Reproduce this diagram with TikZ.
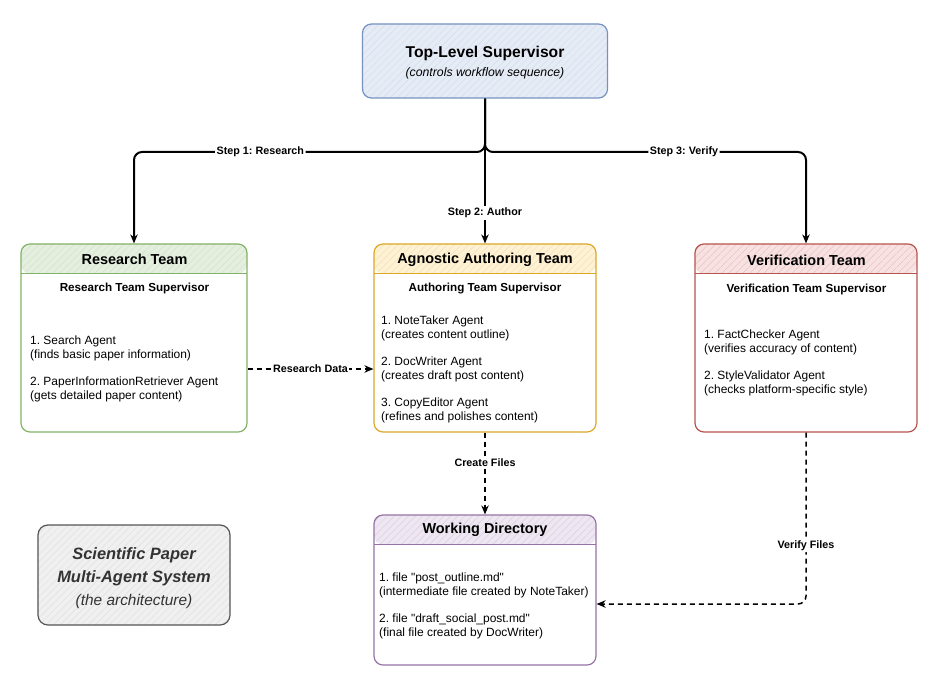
\documentclass[tikz,border=0pt]{standalone}
\usepackage{fontspec}
\setmainfont{Liberation Sans}
\usepackage{xcolor}
\definecolor{supfill}{RGB}{230,236,246}
\definecolor{supline}{RGB}{118,146,192}
\definecolor{resfill}{RGB}{228,239,224}
\definecolor{resline}{RGB}{130,179,102}
\definecolor{autfill}{RGB}{255,242,212}
\definecolor{autline}{RGB}{219,168,40}
\definecolor{verfill}{RGB}{248,226,225}
\definecolor{verline}{RGB}{184,84,80}
\definecolor{dirfill}{RGB}{238,231,241}
\definecolor{dirline}{RGB}{150,115,166}
\definecolor{sysfill}{RGB}{240,240,240}
\definecolor{sysline}{RGB}{85,85,85}
\definecolor{systext}{RGB}{51,51,51}
\usepackage{tikz}
\usetikzlibrary{arrows.meta, calc, patterns.meta}
\tikzset{
    hatch/.style={pattern={Lines[angle=45, distance=5pt, line width=0.5pt]}, pattern color=#1},
    teambox/.style 2 args={
        draw=#1, fill=white, line width=1.2pt, rounded corners=9pt, inner sep=0pt,
        path picture={
            \fill[#2] (path picture bounding box.north west) rectangle ([yshift=-29.5bp]path picture bounding box.north east);
            \fill[hatch=#1!35] (path picture bounding box.north west) rectangle ([yshift=-29.5bp]path picture bounding box.north east);
            \draw[#1, line width=1.2pt] ([yshift=-29.5bp]path picture bounding box.north west) -- ([yshift=-29.5bp]path picture bounding box.north east);
        }
    },
}
\tikzstyle{teamtitle} = [font=\fontsize{14.5}{16}\selectfont\bfseries]
\tikzstyle{subhead} = [font=\fontsize{11.7}{14}\selectfont\bfseries]
\tikzstyle{agents} = [font=\fontsize{12}{14.05}\selectfont, align=left, anchor=north west, inner sep=0pt]
\tikzstyle{arrow} = [-{Stealth[length=9bp, width=7.5bp]}, line width=2bp]
\tikzstyle{dasharrow} = [-{Stealth[length=9bp, width=7.5bp]}, line width=1.5bp, dash pattern=on 5bp off 4bp]
\tikzstyle{steplabel} = [fill=white, inner sep=1.5pt, font=\fontsize{10.8}{12}\selectfont\bfseries]

\begin{document}
\frenchspacing
\begin{tikzpicture}[x=1bp, y=-1bp]
    \useasboundingbox[fill=white] (0,0) rectangle (941,685);

    % supervisor
    \node[draw=supline, preaction={fill=supfill}, hatch=supline!30, line width=1.2pt, rounded corners=9pt,
          minimum width=245bp, minimum height=74bp] (top) at (485,61) {};
    \node[font=\fontsize{15.7}{19}\selectfont\bfseries] (toptitle) at (485,53) {Top-Level Supervisor};
    \node[font=\fontsize{12.3}{15}\selectfont\itshape] (topsub) at (485,73) {(controls workflow sequence)};

    % teams
    \node[teambox={resline}{resfill}, minimum width=226bp, minimum height=188bp] (research) at (134,338) {};
    \node[teamtitle] (restitle) at (134.5,259) {Research Team};
    \node[subhead] (ressup) at (134.5,288) {Research Team Supervisor};
    \node[agents] (resagents) at (30,335.5)
        {1. Search Agent\\(finds basic paper information)\\[13pt]
         2. PaperInformationRetriever Agent\\(gets detailed paper content)};

    \node[teambox={autline}{autfill}, minimum width=222bp, minimum height=188bp] (authoring) at (485,338) {};
    \node[teamtitle] (auttitle) at (485,260) {Agnostic Authoring Team};
    \node[subhead] (autsup) at (485,289) {Authoring Team Supervisor};
    \node[agents] (autagents) at (381,315.5)
        {1. NoteTaker Agent\\(creates content outline)\\[13pt]
         2. DocWriter Agent\\(creates draft post content)\\[13pt]
         3. CopyEditor Agent\\(refines and polishes content)};

    \node[teambox={verline}{verfill}, minimum width=222bp, minimum height=188bp] (verify) at (806,338) {};
    \node[teamtitle] (vertitle) at (806.5,260) {Verification Team};
    \node[subhead] (versup) at (806.5,289) {Verification Team Supervisor};
    \node[agents] (veragents) at (704,329.5)
        {1. FactChecker Agent\\(verifies accuracy of content)\\[13pt]
         2. StyleValidator Agent\\(checks platform-specific style)};

    % files
    \node[teambox={dirline}{dirfill}, minimum width=222bp, minimum height=150bp] (workdir) at (485,590) {};
    \node[teamtitle] (dirtitle) at (485,530) {Working Directory};
    \node[agents] (files) at (379,572.5)
        {1. file \textquotedbl post\_outline.md\textquotedbl\\(intermediate file created by NoteTaker)\\[13pt]
         2. file \textquotedbl draft\_social\_post.md\textquotedbl\\(final file created by DocWriter)};

    \node[draw=sysline, preaction={fill=sysfill}, hatch=sysline!18, line width=1.2pt, rounded corners=10pt,
          minimum width=192bp, minimum height=100bp] (system) at (134,575) {};
    \node[align=center, text=systext, font=\fontsize{16.5}{23}\selectfont\itshape] (systext) at (134,578)
        {\bfseries Scientific Paper\\
         \bfseries Multi-Agent System\\
         \fontsize{15.5}{22}\selectfont(the architecture)};

    % steps
    \coordinate (fork) at (485,152);
    \draw[arrow, rounded corners=8pt] (top.south) -- (fork) -| node[steplabel, pos=0.32] (step1) {Step 1: Research} (research.north);
    \draw[arrow] (top.south) -- node[steplabel, pos=0.79] (step2) {Step 2: Author} (authoring.north);
    \draw[arrow, rounded corners=8pt] (top.south) -- (fork) -| node[steplabel, pos=0.31] (step3) {Step 3: Verify} (verify.north);

    \draw[dasharrow] ([yshift=-31bp]research.east) -- node[steplabel] (rdata) {Research Data} ([yshift=-31bp]authoring.west);
    \draw[dasharrow] (authoring.south) -- node[steplabel, pos=0.37] (create) {Create Files} (workdir.north);
    \draw[dasharrow, rounded corners=8pt] (verify.south) |- node[steplabel, pos=0.33] (vfiles) {Verify Files} ([yshift=-14bp]workdir.east);

\end{tikzpicture}
\end{document}
